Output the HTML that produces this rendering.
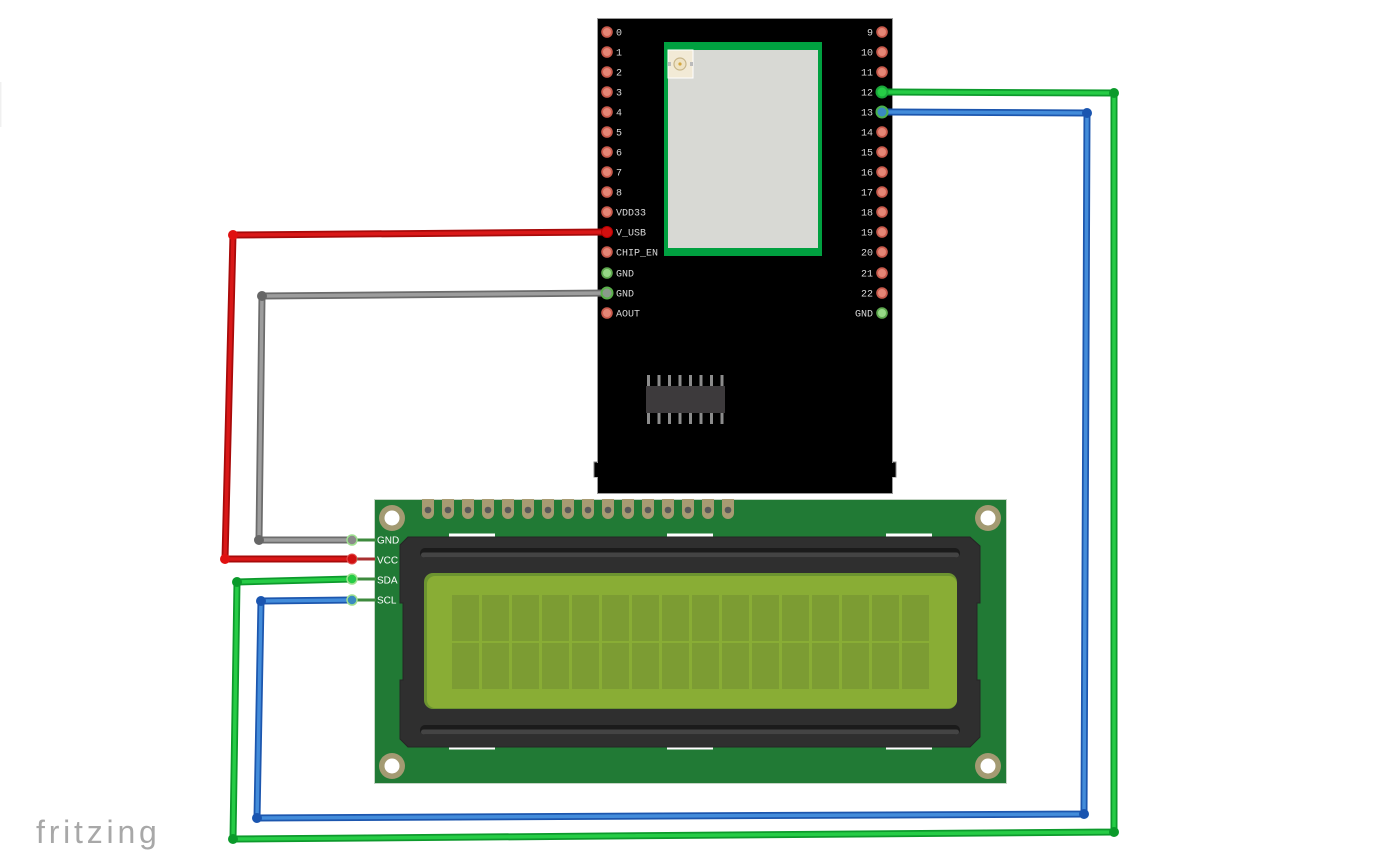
<!DOCTYPE html>
<html><head><meta charset="utf-8"><style>
html,body{margin:0;padding:0;background:#fff;}
svg{display:block;}
.pl{font-family:"Liberation Mono",monospace;font-size:10px;fill:#d8d8d8;}
.ll{font-family:"Liberation Sans",sans-serif;font-size:10px;fill:#fff;}
</style></head><body>
<svg width="1389" height="863" viewBox="0 0 1389 863" xmlns="http://www.w3.org/2000/svg">
<rect width="1389" height="863" fill="#fff"/>
<line x1="0.5" y1="82" x2="0.5" y2="127" stroke="#f0f0f0" stroke-width="2"/>

<!-- ESP board -->
<rect x="594" y="462" width="302" height="15" fill="#000" stroke="#888" stroke-width="1"/>
<rect x="597.5" y="18.5" width="295" height="475" fill="#000" stroke="#9a9a9a" stroke-width="1"/>
<rect x="594.5" y="463" width="5" height="14" fill="#000"/>
<rect x="890" y="463" width="5.5" height="14" fill="#000"/>
<!-- module -->
<rect x="664" y="42" width="158" height="214" fill="#00a040"/>
<rect x="668" y="50" width="150" height="198" fill="#d8d9d4"/>
<rect x="668" y="50" width="25" height="28" fill="#f2ead6" stroke="#fff" stroke-width="1"/>
<rect x="668" y="62" width="3" height="4" fill="#bbb"/>
<rect x="690" y="62" width="3" height="4" fill="#bbb"/>
<circle cx="680" cy="64" r="6" fill="#efe3c4" stroke="#c8b68a" stroke-width="1.2"/>
<circle cx="680" cy="64" r="1.6" fill="#d4a840"/>
<!-- chip -->
<g fill="#8c8c8c">
<rect x="647" y="375" width="3" height="11"/><rect x="657.5" y="375" width="3" height="11"/><rect x="668" y="375" width="3" height="11"/><rect x="678.5" y="375" width="3" height="11"/><rect x="689" y="375" width="3" height="11"/><rect x="699.5" y="375" width="3" height="11"/><rect x="710" y="375" width="3" height="11"/><rect x="720.5" y="375" width="3" height="11"/>
<rect x="647" y="413" width="3" height="11"/><rect x="657.5" y="413" width="3" height="11"/><rect x="668" y="413" width="3" height="11"/><rect x="678.5" y="413" width="3" height="11"/><rect x="689" y="413" width="3" height="11"/><rect x="699.5" y="413" width="3" height="11"/><rect x="710" y="413" width="3" height="11"/><rect x="720.5" y="413" width="3" height="11"/>
</g>
<rect x="646" y="386" width="79" height="27" fill="#3d3a3c"/>

<!-- left pins -->
<g stroke-width="1.8">
<circle cx="607" cy="32" r="4.9" fill="#e48676" stroke="#c85a4c"/>
<circle cx="607" cy="52" r="4.9" fill="#e48676" stroke="#c85a4c"/>
<circle cx="607" cy="72" r="4.9" fill="#e48676" stroke="#c85a4c"/>
<circle cx="607" cy="92" r="4.9" fill="#e48676" stroke="#c85a4c"/>
<circle cx="607" cy="112" r="4.9" fill="#e48676" stroke="#c85a4c"/>
<circle cx="607" cy="132" r="4.9" fill="#e48676" stroke="#c85a4c"/>
<circle cx="607" cy="152" r="4.9" fill="#e48676" stroke="#c85a4c"/>
<circle cx="607" cy="172" r="4.9" fill="#e48676" stroke="#c85a4c"/>
<circle cx="607" cy="192" r="4.9" fill="#e48676" stroke="#c85a4c"/>
<circle cx="607" cy="212" r="4.9" fill="#e48676" stroke="#c85a4c"/>
<circle cx="607" cy="252" r="4.9" fill="#e48676" stroke="#c85a4c"/>
<circle cx="607" cy="273" r="4.9" fill="#96d886" stroke="#5ea84e"/>
<circle cx="607" cy="313" r="4.9" fill="#e48676" stroke="#c85a4c"/>
<!-- right pins -->
<circle cx="882" cy="32" r="4.9" fill="#e48676" stroke="#c85a4c"/>
<circle cx="882" cy="52" r="4.9" fill="#e48676" stroke="#c85a4c"/>
<circle cx="882" cy="72" r="4.9" fill="#e48676" stroke="#c85a4c"/>
<circle cx="882" cy="132" r="4.9" fill="#e48676" stroke="#c85a4c"/>
<circle cx="882" cy="152" r="4.9" fill="#e48676" stroke="#c85a4c"/>
<circle cx="882" cy="172" r="4.9" fill="#e48676" stroke="#c85a4c"/>
<circle cx="882" cy="192" r="4.9" fill="#e48676" stroke="#c85a4c"/>
<circle cx="882" cy="212" r="4.9" fill="#e48676" stroke="#c85a4c"/>
<circle cx="882" cy="232" r="4.9" fill="#e48676" stroke="#c85a4c"/>
<circle cx="882" cy="252" r="4.9" fill="#e48676" stroke="#c85a4c"/>
<circle cx="882" cy="273" r="4.9" fill="#e48676" stroke="#c85a4c"/>
<circle cx="882" cy="293" r="4.9" fill="#e48676" stroke="#c85a4c"/>
<circle cx="882" cy="313" r="4.9" fill="#96d886" stroke="#5ea84e"/>
</g>
<g class="pl">
<text x="616" y="35.5">0</text><text x="616" y="55.5">1</text><text x="616" y="75.5">2</text><text x="616" y="95.5">3</text><text x="616" y="115.5">4</text><text x="616" y="135.5">5</text><text x="616" y="155.5">6</text><text x="616" y="175.5">7</text><text x="616" y="195.5">8</text><text x="616" y="215.5">VDD33</text><text x="616" y="235.5">V_USB</text><text x="616" y="255.5">CHIP_EN</text><text x="616" y="276.5">GND</text><text x="616" y="296.5">GND</text><text x="616" y="316.5">AOUT</text>
</g>
<g class="pl" text-anchor="end">
<text x="873" y="35.5">9</text><text x="873" y="55.5">10</text><text x="873" y="75.5">11</text><text x="873" y="95.5">12</text><text x="873" y="115.5">13</text><text x="873" y="135.5">14</text><text x="873" y="155.5">15</text><text x="873" y="175.5">16</text><text x="873" y="195.5">17</text><text x="873" y="215.5">18</text><text x="873" y="235.5">19</text><text x="873" y="255.5">20</text><text x="873" y="276.5">21</text><text x="873" y="296.5">22</text><text x="873" y="316.5">GND</text>
</g>

<!-- LCD -->
<rect x="374.5" y="499.5" width="632" height="284" fill="#217a35" stroke="#c5d5c5" stroke-width="1"/>
<g fill="#a89b72">
<path d="M422 499h12v14a6 6 0 0 1-12 0z"/><path d="M442 499h12v14a6 6 0 0 1-12 0z"/><path d="M462 499h12v14a6 6 0 0 1-12 0z"/><path d="M482 499h12v14a6 6 0 0 1-12 0z"/><path d="M502 499h12v14a6 6 0 0 1-12 0z"/><path d="M522 499h12v14a6 6 0 0 1-12 0z"/><path d="M542 499h12v14a6 6 0 0 1-12 0z"/><path d="M562 499h12v14a6 6 0 0 1-12 0z"/><path d="M582 499h12v14a6 6 0 0 1-12 0z"/><path d="M602 499h12v14a6 6 0 0 1-12 0z"/><path d="M622 499h12v14a6 6 0 0 1-12 0z"/><path d="M642 499h12v14a6 6 0 0 1-12 0z"/><path d="M662 499h12v14a6 6 0 0 1-12 0z"/><path d="M682 499h12v14a6 6 0 0 1-12 0z"/><path d="M702 499h12v14a6 6 0 0 1-12 0z"/><path d="M722 499h12v14a6 6 0 0 1-12 0z"/>
</g>
<g fill="#5a5a5a">
<circle cx="428" cy="510" r="3.3"/><circle cx="448" cy="510" r="3.3"/><circle cx="468" cy="510" r="3.3"/><circle cx="488" cy="510" r="3.3"/><circle cx="508" cy="510" r="3.3"/><circle cx="528" cy="510" r="3.3"/><circle cx="548" cy="510" r="3.3"/><circle cx="568" cy="510" r="3.3"/><circle cx="588" cy="510" r="3.3"/><circle cx="608" cy="510" r="3.3"/><circle cx="628" cy="510" r="3.3"/><circle cx="648" cy="510" r="3.3"/><circle cx="668" cy="510" r="3.3"/><circle cx="688" cy="510" r="3.3"/><circle cx="708" cy="510" r="3.3"/><circle cx="728" cy="510" r="3.3"/>
</g>
<!-- mounting holes -->
<g>
<circle cx="392" cy="518" r="13" fill="#a39a72"/><circle cx="392" cy="518" r="7.5" fill="#fff"/>
<circle cx="988" cy="518" r="13" fill="#a39a72"/><circle cx="988" cy="518" r="7.5" fill="#fff"/>
<circle cx="392" cy="766" r="13" fill="#a39a72"/><circle cx="392" cy="766" r="7.5" fill="#fff"/>
<circle cx="988" cy="766" r="13" fill="#a39a72"/><circle cx="988" cy="766" r="7.5" fill="#fff"/>
</g>
<!-- white strips -->
<g fill="#fff">
<rect x="449" y="533.5" width="46" height="3"/><rect x="667" y="533.5" width="46" height="3"/><rect x="886" y="533.5" width="46" height="3"/>
<rect x="449" y="746.5" width="46" height="3"/><rect x="667" y="746.5" width="46" height="3"/><rect x="886" y="746.5" width="46" height="3"/>
</g>
<!-- bezel -->
<path d="M408 537 H970 L980 546 V603 H977 V680 H980 V737 L970 747 H408 L400 739 V680 H403 V603 H400 V545 Z" fill="#2f2f2f" stroke="#252525" stroke-width="1"/>
<rect x="420" y="548" width="540" height="10" rx="5" fill="#1b1b1b"/>
<rect x="421" y="552.5" width="538" height="5" rx="2.5" fill="#444"/>
<rect x="420" y="725" width="540" height="10" rx="5" fill="#1b1b1b"/>
<rect x="421" y="729.5" width="538" height="5" rx="2.5" fill="#444"/>
<!-- screen -->
<rect x="424" y="573" width="533" height="136" rx="9" fill="#6c9430"/>
<rect x="427" y="576" width="530" height="132" rx="8" fill="#89ad35"/>
<rect x="451" y="595" width="479" height="94" fill="#89ad35"/>
<g fill="#7c9c33">
<rect x="452" y="595" width="27" height="46"/><rect x="482" y="595" width="27" height="46"/><rect x="512" y="595" width="27" height="46"/><rect x="542" y="595" width="27" height="46"/><rect x="572" y="595" width="27" height="46"/><rect x="602" y="595" width="27" height="46"/><rect x="632" y="595" width="27" height="46"/><rect x="662" y="595" width="27" height="46"/><rect x="692" y="595" width="27" height="46"/><rect x="722" y="595" width="27" height="46"/><rect x="752" y="595" width="27" height="46"/><rect x="782" y="595" width="27" height="46"/><rect x="812" y="595" width="27" height="46"/><rect x="842" y="595" width="27" height="46"/><rect x="872" y="595" width="27" height="46"/><rect x="902" y="595" width="27" height="46"/>
<rect x="452" y="643" width="27" height="46"/><rect x="482" y="643" width="27" height="46"/><rect x="512" y="643" width="27" height="46"/><rect x="542" y="643" width="27" height="46"/><rect x="572" y="643" width="27" height="46"/><rect x="602" y="643" width="27" height="46"/><rect x="632" y="643" width="27" height="46"/><rect x="662" y="643" width="27" height="46"/><rect x="692" y="643" width="27" height="46"/><rect x="722" y="643" width="27" height="46"/><rect x="752" y="643" width="27" height="46"/><rect x="782" y="643" width="27" height="46"/><rect x="812" y="643" width="27" height="46"/><rect x="842" y="643" width="27" height="46"/><rect x="872" y="643" width="27" height="46"/><rect x="902" y="643" width="27" height="46"/>
</g>
<!-- LCD pin legs -->
<g stroke="#3d8a3d" stroke-width="3">
<line x1="352" y1="540" x2="376" y2="540"/><line x1="352" y1="559" x2="376" y2="559"/><line x1="352" y1="579" x2="376" y2="579"/><line x1="352" y1="600" x2="376" y2="600"/>
</g>
<line x1="358" y1="559" x2="375" y2="559" stroke="#a83030" stroke-width="3"/>
<g class="ll">
<text x="377" y="543.5">GND</text><text x="377" y="563.5">VCC</text><text x="377" y="583.5">SDA</text><text x="377" y="603.5">SCL</text>
</g>

<!-- wires -->
<g fill="none" stroke-linejoin="round" stroke-linecap="round">
<polyline points="607,232 233,235 225,559 352,559" stroke="#a80a0a" stroke-width="7"/>
<polyline points="607,232 233,235 225,559 352,559" stroke="#d91818" stroke-width="3.5"/>
<polyline points="607,293 262,296 259,540 352,540" stroke="#6c6c6c" stroke-width="7"/>
<polyline points="607,293 262,296 259,540 352,540" stroke="#9d9d9d" stroke-width="3.5"/>
<polyline points="882,92 1114,93 1114,832 233,839 237,582 352,579" stroke="#0d9a2c" stroke-width="7"/>
<polyline points="882,92 1114,93 1114,832 233,839 237,582 352,579" stroke="#26cc46" stroke-width="3.5"/>
<polyline points="882,112 1087,113 1084,814 257,818 261,601 352,600" stroke="#1c56ae" stroke-width="7"/>
<polyline points="882,112 1087,113 1084,814 257,818 261,601 352,600" stroke="#438cda" stroke-width="3.5"/>
</g>
<!-- bend dots -->
<circle cx="233" cy="235" r="5" fill="#e01010"/>
<circle cx="225" cy="559" r="5" fill="#e01010"/>
<circle cx="262" cy="296" r="5" fill="#666"/>
<circle cx="259" cy="540" r="5" fill="#666"/>
<circle cx="1114" cy="93" r="5" fill="#0a9a2a"/>
<circle cx="1114" cy="832" r="5" fill="#0a9a2a"/>
<circle cx="233" cy="839" r="5" fill="#0a9a2a"/>
<circle cx="237" cy="582" r="5" fill="#0a9a2a"/>
<circle cx="1087" cy="113" r="5" fill="#1a55b0"/>
<circle cx="1084" cy="814" r="5" fill="#1a55b0"/>
<circle cx="257" cy="818" r="5" fill="#1a55b0"/>
<circle cx="261" cy="601" r="5" fill="#1a55b0"/>
<!-- end dots -->
<circle cx="607" cy="232" r="5.5" fill="#d01010" stroke="#b80000" stroke-width="1"/>
<circle cx="607" cy="293" r="5.5" fill="#8a9a8a" stroke="#5ab04a" stroke-width="2"/>
<circle cx="882" cy="92" r="5.5" fill="#26cc46" stroke="#1aa83a" stroke-width="2"/>
<circle cx="882" cy="112" r="5.5" fill="#3a8ac0" stroke="#4ab04a" stroke-width="2"/>
<circle cx="352" cy="540" r="5" fill="#8a8a8a" stroke="#9ee08e" stroke-width="1.5"/>
<circle cx="352" cy="559" r="5" fill="#d01010" stroke="#e05050" stroke-width="1"/>
<circle cx="352" cy="579" r="5" fill="#26cc46" stroke="#9ee08e" stroke-width="1.5"/>
<circle cx="352" cy="600" r="5" fill="#3a8ac0" stroke="#9ee08e" stroke-width="1.5"/>

<!-- logo -->
<text x="36" y="843" font-family="'Liberation Sans',sans-serif" font-size="32" letter-spacing="3.8" fill="#a8a8a8">fritzing</text>
</svg>
</body></html>
